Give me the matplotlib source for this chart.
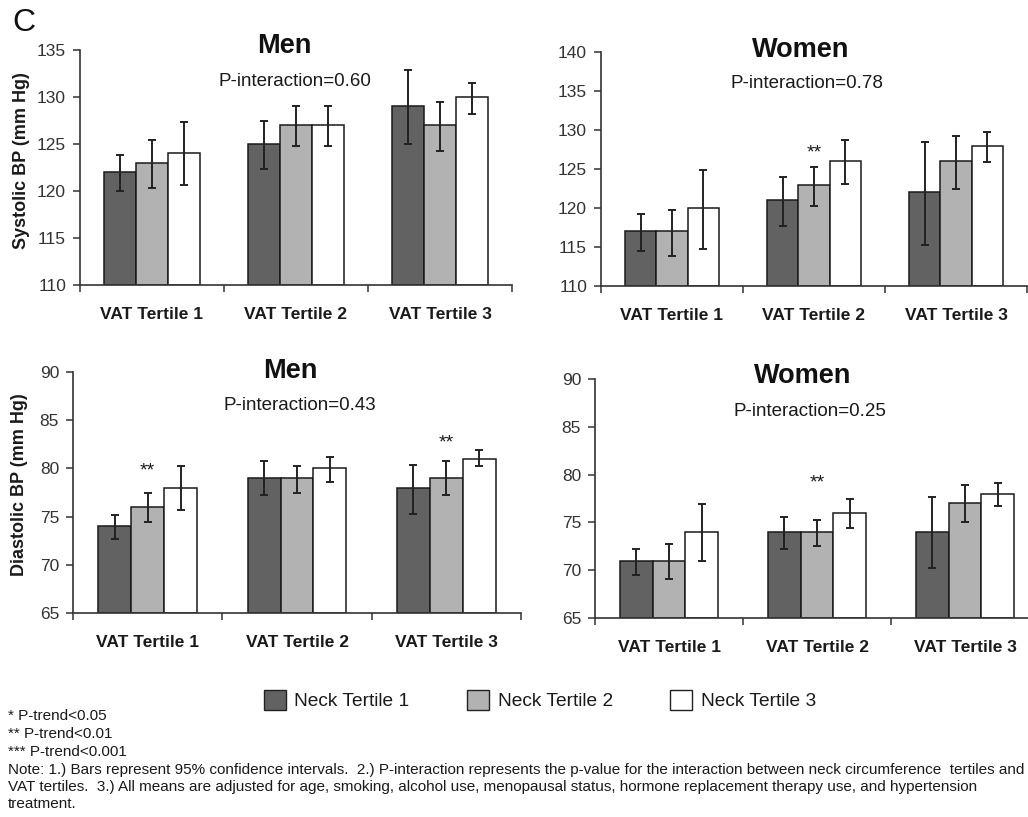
import matplotlib
matplotlib.use("Agg")
from matplotlib import pyplot as plt
from matplotlib.patches import Patch

plt.rcParams['font.family'] = ['Liberation Sans', 'DejaVu Sans']

groups = ['VAT Tertile 1', 'VAT Tertile 2', 'VAT Tertile 3']
series = ['Neck Tertile 1', 'Neck Tertile 2', 'Neck Tertile 3']
colors = ['#626262', '#b2b2b2', '#ffffff']

# systolic, men
men_sys = [[122, 125, 129], [123, 127, 127], [124, 127, 130]]
men_sys_lo = [[120.0, 122.3, 125.0], [120.3, 124.8, 124.3], [120.6, 124.8, 128.2]]
men_sys_hi = [[123.8, 127.4, 132.9], [125.4, 129.0, 129.5], [127.3, 129.0, 131.5]]
# systolic, women
wom_sys = [[117, 121, 122], [117, 123, 126], [120, 126, 128]]
wom_sys_lo = [[114.5, 117.7, 115.2], [113.9, 120.3, 122.5], [114.7, 123.1, 125.9]]
wom_sys_hi = [[119.2, 124.0, 128.5], [119.8, 125.3, 129.2], [124.9, 128.7, 129.8]]
# diastolic, men
men_dia = [[74, 79, 78], [76, 79, 79], [78, 80, 81]]
men_dia_lo = [[72.7, 77.2, 75.3], [74.4, 77.5, 77.2], [75.7, 78.6, 80.2]]
men_dia_hi = [[75.2, 80.8, 80.4], [77.5, 80.3, 80.8], [80.2, 81.2, 81.9]]
# diastolic, women
wom_dia = [[71, 74, 74], [71, 74, 77], [74, 76, 78]]
wom_dia_lo = [[69.5, 72.2, 70.2], [69.1, 72.5, 75.0], [71.0, 74.4, 76.7]]
wom_dia_hi = [[72.2, 75.6, 77.7], [72.7, 75.3, 78.9], [76.9, 77.5, 79.1]]

p_interaction = ['0.60', '0.78', '0.43', '0.25']
titles = ['Men', 'Women', 'Men', 'Women']
# (group index, series index, y position) for the ** marks
stars_men_sys = []
stars_wom_sys = [(1, 1, 127.0)]
stars_men_dia = [(0, 1, 79.7), (2, 1, 82.6)]
stars_wom_dia = [(1, 1, 79.1)]

W, H = 1028, 817
fig = plt.figure(figsize=(W / 100, H / 100), dpi=100)

def px(x0, y0, x1, y1):
    return [x0 / W, 1 - y1 / H, (x1 - x0) / W, (y1 - y0) / H]

panels = [
    (px(80, 50, 512, 285), men_sys, men_sys_lo, men_sys_hi, (110, 135), stars_men_sys),
    (px(601, 52, 1027, 286), wom_sys, wom_sys_lo, wom_sys_hi, (110, 140), stars_wom_sys),
    (px(73, 372, 521, 613), men_dia, men_dia_lo, men_dia_hi, (65, 90), stars_men_dia),
    (px(595, 379, 1039, 618), wom_dia, wom_dia_lo, wom_dia_hi, (65, 90), stars_wom_dia),
]
title_pos = [(284, 46, 295, 81), (801, 50, 807, 84), (290, 371, 300, 405), (803, 376, 810, 411)]

bw = 0.22
txt = '#1a1a1a'
for i, (rect, vals, lo, hi, ylim, stars) in enumerate(panels):
    ax = fig.add_axes(rect)
    for k in range(3):
        xs = [g + (k - 1) * bw for g in range(3)]
        yerr = [[vals[k][g] - lo[k][g] for g in range(3)], [hi[k][g] - vals[k][g] for g in range(3)]]
        ax.bar(xs, [v - ylim[0] for v in vals[k]], bottom=ylim[0], width=bw,
               color=colors[k], edgecolor='#1a1a1a', linewidth=1.1, zorder=2)
        ax.errorbar(xs, vals[k], yerr=yerr, fmt='none', ecolor='#222222',
                    elinewidth=1.4, capsize=3, capthick=1.4, zorder=3)
    for g, k, y in stars:
        ax.text(g + (k - 1) * bw, y, '**', ha='center', va='center', fontsize=14, color=txt)
    ax.set_xlim(-0.5, 2.5)
    ax.set_ylim(*ylim)
    ax.set_yticks(range(ylim[0], ylim[1] + 1, 5))
    ax.set_xticks([-0.5, 0.5, 1.5, 2.5])
    ax.set_xticklabels([])
    ax.set_xticks([0, 1, 2], minor=True)
    ax.set_xticklabels(groups, minor=True, fontsize=12.5, fontweight='bold', color=txt)
    ax.tick_params(axis='x', which='minor', length=0, pad=16)
    ax.tick_params(axis='x', which='major', length=5, width=1.1, color='#333333')
    ax.tick_params(axis='y', length=5, width=1.1, color='#333333', labelsize=12.5,
                   labelcolor='#333333', pad=5)
    for s in ['top', 'right']:
        ax.spines[s].set_visible(False)
    for s in ['left', 'bottom']:
        ax.spines[s].set_color('#333333')
        ax.spines[s].set_linewidth(1.2)
    tx, ty, px_, py_ = title_pos[i]
    fig.text(tx / W, 1 - ty / H, titles[i], ha='center', va='center',
             fontsize=19.5, fontweight='bold', color='#111111')
    fig.text(px_ / W, 1 - py_ / H, 'P-interaction=' + p_interaction[i], ha='center',
             va='center', fontsize=13.5, color=txt)

fig.text(22 / W, 1 - 161 / H, 'Systolic BP (mm Hg)', rotation=90, ha='center', va='center',
         fontsize=13, fontweight='bold', color=txt)
fig.text(20 / W, 1 - 485 / H, 'Diastolic BP (mm Hg)', rotation=90, ha='center', va='center',
         fontsize=13, fontweight='bold', color=txt)
fig.text(24 / W, 1 - 23 / H, 'C', ha='center', va='center', fontsize=23, color='#111111')

handles = [Patch(facecolor=c, edgecolor='#222222', linewidth=1.0) for c in colors]
fig.legend(handles, series, loc='center', bbox_to_anchor=(540 / W, 1 - 700 / H), ncol=3,
           frameon=False, fontsize=13.8, handlelength=1.15, handleheight=1.25,
           handletextpad=0.45, columnspacing=3.0, labelcolor=txt)

notes = [
    '* P-trend<0.05',
    '** P-trend<0.01',
    '*** P-trend<0.001',
    'Note: 1.) Bars represent 95% confidence intervals.  2.) P-interaction represents the p-value for the interaction between neck circumference  tertiles and',
    'VAT tertiles.  3.) All means are adjusted for age, smoking, alcohol use, menopausal status, hormone replacement therapy use, and hypertension',
    'treatment.',
]
note_y = [716, 734, 752, 770, 787, 804]
for t, y in zip(notes, note_y):
    fig.text(8 / W, 1 - y / H, t, ha='left', va='center', fontsize=10.95, color=txt)

plt.savefig('out.png', dpi=100)
